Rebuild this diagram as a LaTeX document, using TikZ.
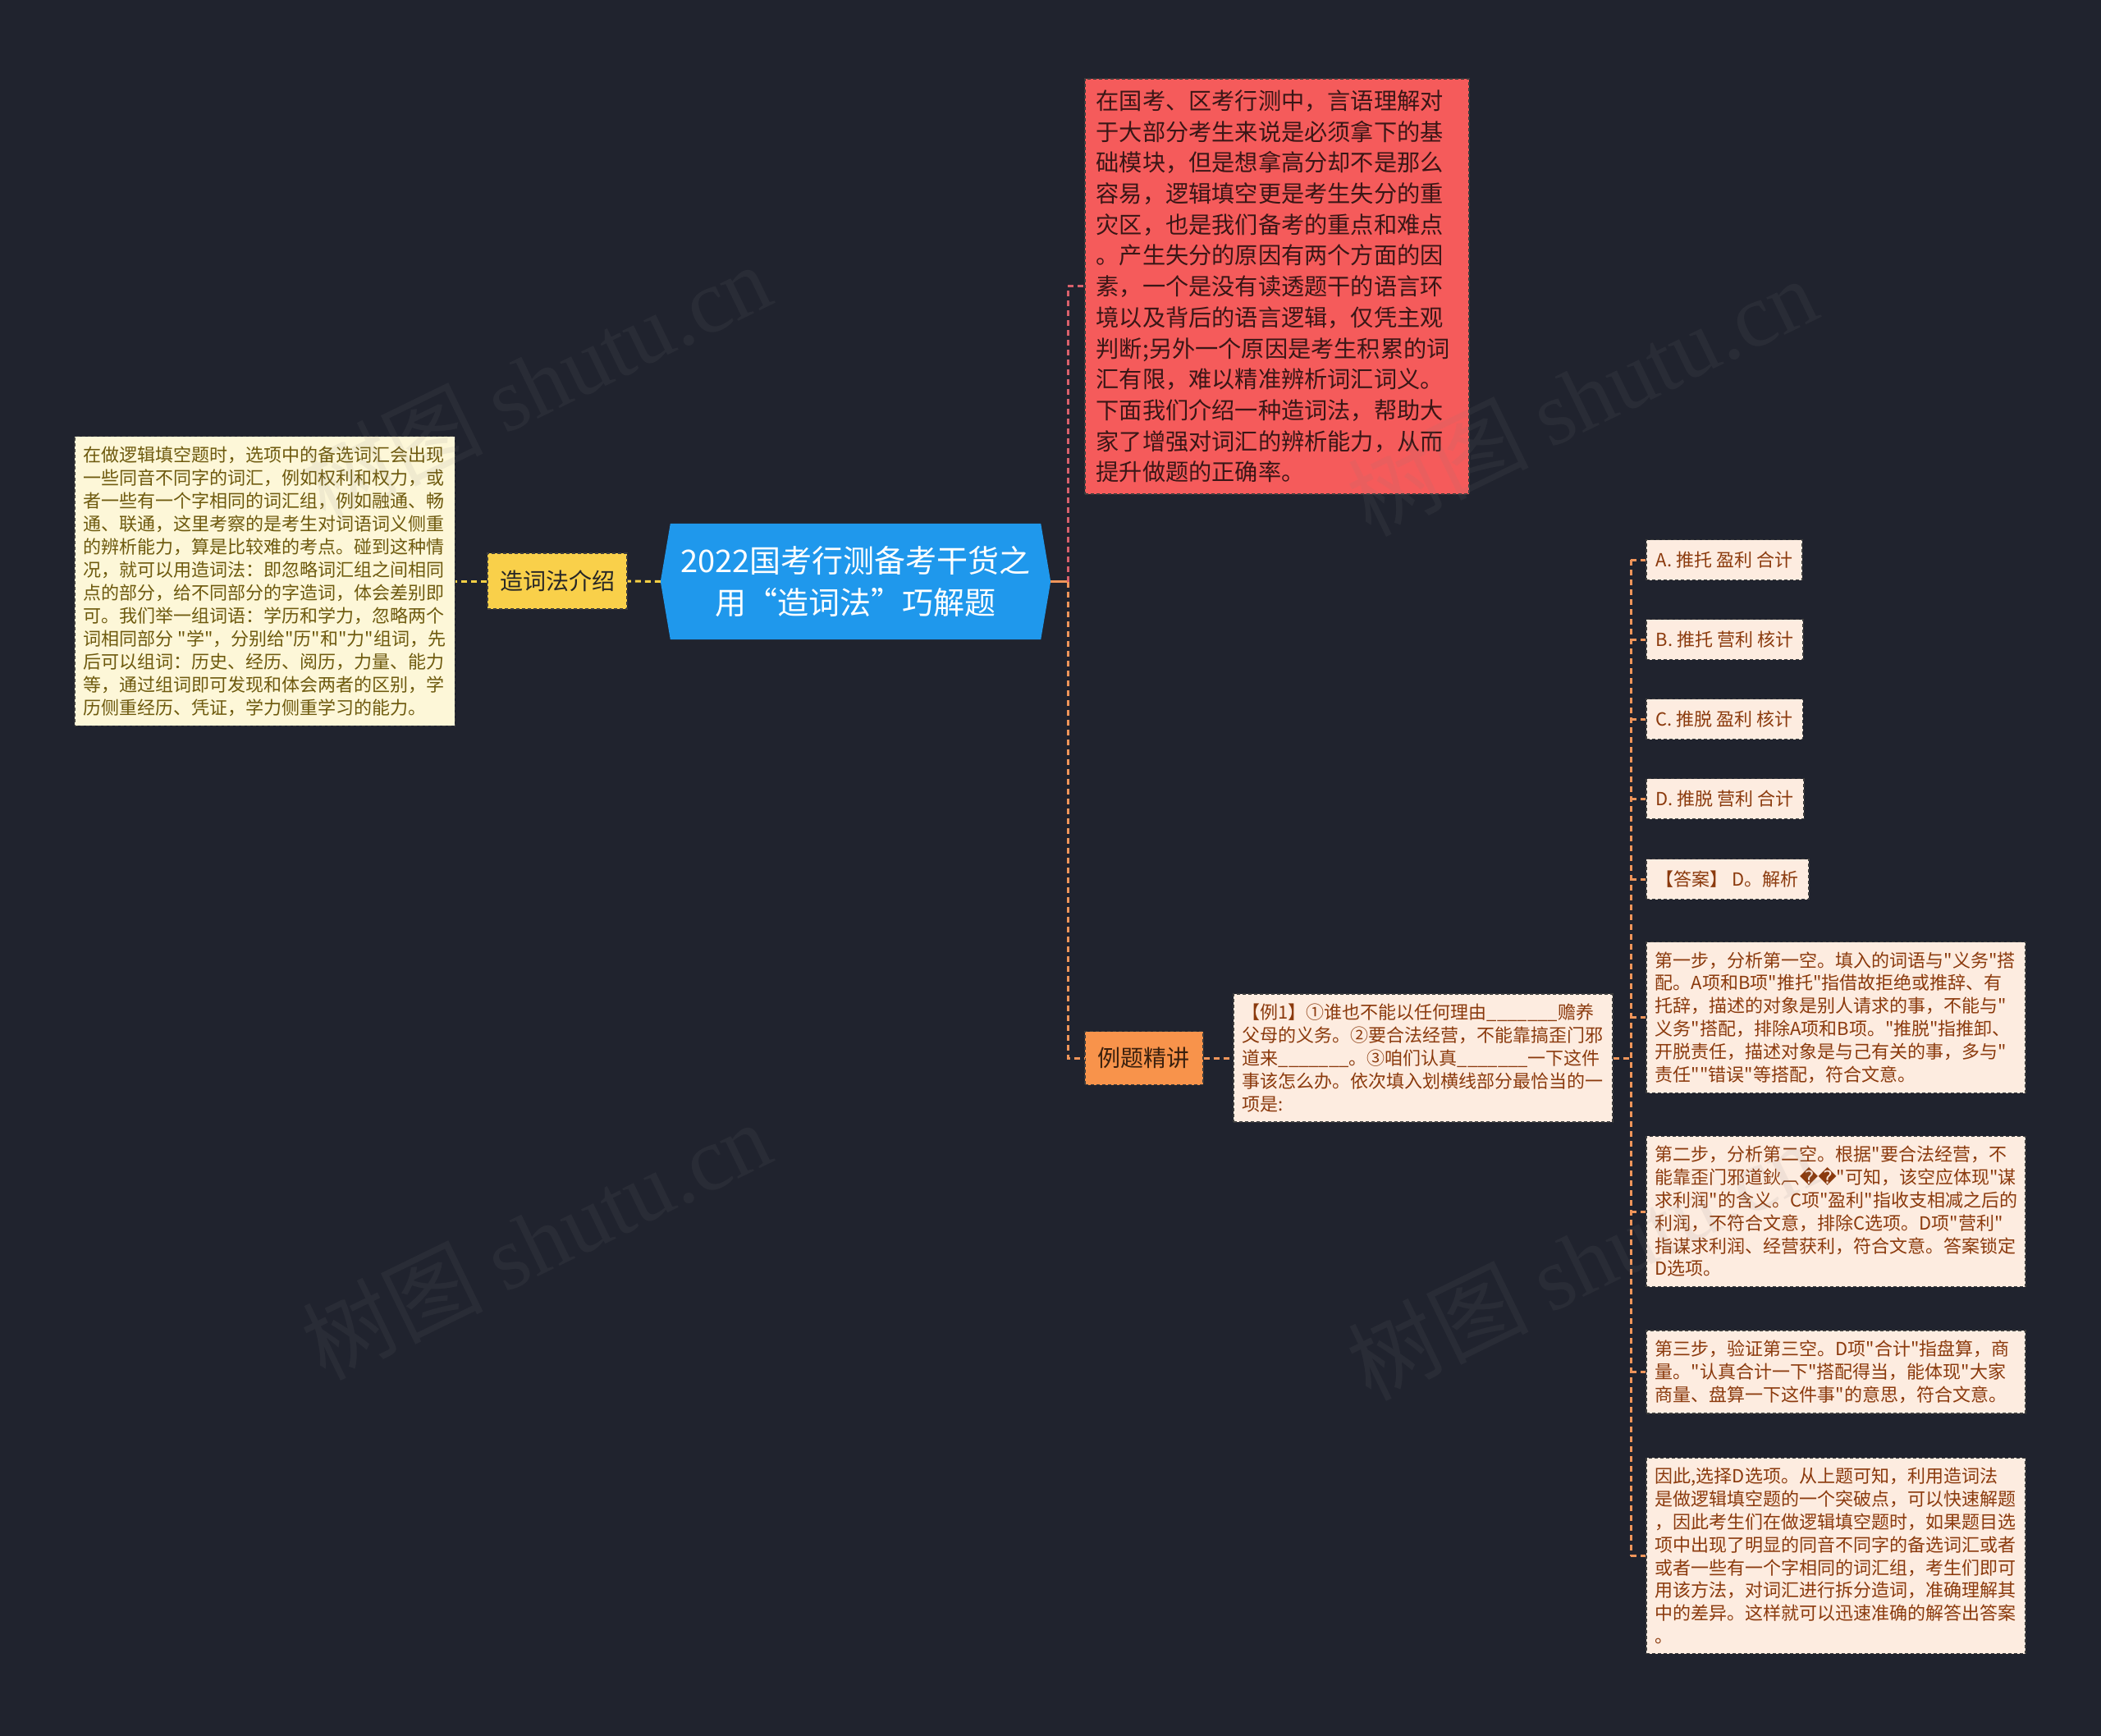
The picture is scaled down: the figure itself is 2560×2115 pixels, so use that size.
\documentclass[tikz,border=0pt]{standalone}
\usepackage{fontspec}
\setmainfont{Noto Sans CJK SC}[Ligatures=TeXOff]
\newfontfamily\wmfont{Liberation Serif}
\newfontfamily\repfont{DejaVu Sans}
\usetikzlibrary{calc}
\definecolor{bgc}{HTML}{20232E}
\definecolor{creamc}{HTML}{FDF7D8}
\definecolor{olivec}{HTML}{6E5A0E}
\definecolor{yelc}{HTML}{F9D04A}
\definecolor{bluec}{HTML}{1F98EC}
\definecolor{redc}{HTML}{F55B5B}
\definecolor{redtxt}{HTML}{3A1616}
\definecolor{orc}{HTML}{F8934B}
\definecolor{ortxt}{HTML}{3A200E}
\definecolor{peachc}{HTML}{FDECE0}
\definecolor{browntxt}{HTML}{8B3A0D}
\definecolor{bordc}{HTML}{3C3C3C}
\definecolor{orln}{HTML}{F0955A}
\definecolor{redln}{HTML}{D9606B}
\definecolor{yelln}{HTML}{F5CF45}
\pgfdeclarelayer{back}
\pgfsetlayers{back,main}
\begin{document}
\begin{tikzpicture}[x=1pt,y=-1pt,
  bdr/.style={draw=bordc, line width=1.5pt, dash pattern=on 4pt off 3pt},
  conn/.style={line width=3pt, dash pattern=on 7pt off 5pt},
  introtxt/.style={bdr, fill=creamc, text=olivec, align=left, inner xsep=11pt, inner ysep=12pt,
    font=\fontsize{22pt}{28pt}\selectfont},
  yelbox/.style={bdr, fill=yelc, text=black!85, minimum width=170pt, minimum height=68pt, inner sep=0pt,
    font=\fontsize{28pt}{34pt}\selectfont},
  rootbox/.style={text=white, minimum width=475pt, minimum height=141pt, inner sep=0pt, align=center,
    font=\fontsize{38pt}{51pt}\selectfont},
  redbox/.style={bdr, fill=redc, text=redtxt, align=left, text width=440pt, inner xsep=14pt, inner ysep=14pt,
    font=\fontsize{28.2pt}{37.7pt}\selectfont},
  orbox/.style={bdr, fill=orc, text=ortxt, minimum width=144pt, minimum height=65pt, inner sep=0pt,
    font=\fontsize{28pt}{34pt}\selectfont},
  bigpeach/.style={bdr, fill=peachc, text=browntxt, align=left, text width=440pt, inner xsep=11pt, inner ysep=12pt,
    font=\fontsize{22pt}{27.8pt}\selectfont},
  smallpeach/.style={bdr, fill=peachc, text=browntxt, minimum height=49pt, inner xsep=12pt, inner ysep=0pt,
    font=\fontsize{22pt}{27pt}\selectfont},
  wm/.style={rotate=26, text=gray, opacity=0.1, font=\fontsize{110pt}{112pt}\selectfont}
]
\useasboundingbox (0,0) rectangle (2560,2115);
\begin{pgfonlayer}{back}
\fill[bgc] (0,0) rectangle (2560,2115);
\end{pgfonlayer}

% root
\node[rootbox] (root) at (1042.5,708.5) {2022国考行测备考干货之\\用“造词法”巧解题};
\begin{pgfonlayer}{back}
\fill[bluec] (root.west) -- ([xshift=12pt]root.north west) -- ([xshift=-12pt]root.north east)
  -- (root.east) -- ([xshift=-12pt]root.south east) -- ([xshift=12pt]root.south west) -- cycle;
\end{pgfonlayer}

% left side
\node[yelbox] (intro) at (679,708) {造词法介绍};
\node[introtxt, anchor=east] (introtext) at (555,708) {在做逻辑填空题时，选项中的备选词汇会出现\\
一些同音不同字的词汇，例如权利和权力，或\\
者一些有一个字相同的词汇组，例如融通、畅\\
通、联通，这里考察的是考生对词语词义侧重\\
的辨析能力，算是比较难的考点。碰到这种情\\
况，就可以用造词法：即忽略词汇组之间相同\\
点的部分，给不同部分的字造词，体会差别即\\
可。我们举一组词语：学历和学力，忽略两个\\
词相同部分 "学"，分别给"历"和"力"组词，先\\
后可以组词：历史、经历、阅历，力量、能力\\
等，通过组词即可发现和体会两者的区别，学\\
历侧重经历、凭证，学力侧重学习的能力。};

% red box
\node[redbox, anchor=north west] (red) at (1321,95) {在国考、区考行测中，言语理解对\\
于大部分考生来说是必须拿下的基\\
础模块，但是想拿高分却不是那么\\
容易，逻辑填空更是考生失分的重\\
灾区，也是我们备考的重点和难点\\
。产生失分的原因有两个方面的因\\
素，一个是没有读透题干的语言环\\
境以及背后的语言逻辑，仅凭主观\\
判断;另外一个原因是考生积累的词\\
汇有限，难以精准辨析词汇词义。\\
下面我们介绍一种造词法，帮助大\\
家了增强对词汇的辨析能力，从而\\
提升做题的正确率。};

% example
\node[orbox, anchor=west] (ex) at (1321,1289) {例题精讲};
\node[bigpeach, anchor=west] (q) at (1502,1289) {【例1】①谁也不能以任何理由\_\_\_\_\_\_\_赡养\\
父母的义务。②要合法经营，不能靠搞歪门邪\\
道来\_\_\_\_\_\_\_。③咱们认真\_\_\_\_\_\_\_一下这件\\
事该怎么办。依次填入划横线部分最恰当的一\\
项是:};

% right children
\node[smallpeach, anchor=west] (A) at (2005,682) {A. 推托 盈利 合计};
\node[smallpeach, anchor=west] (B) at (2005,779) {B. 推托 营利 核计};
\node[smallpeach, anchor=west] (C) at (2005,876) {C. 推脱 盈利 核计};
\node[smallpeach, anchor=west] (D) at (2005,973) {D. 推脱 营利 合计};
\node[smallpeach, anchor=west] (ans) at (2005,1071) {【答案】 D。解析};
\node[bigpeach, anchor=west] (s1) at (2005,1239.5) {第一步，分析第一空。填入的词语与"义务"搭\\
配。A项和B项"推托"指借故拒绝或推辞、有\\
托辞，描述的对象是别人请求的事，不能与"\\
义务"搭配，排除A项和B项。"推脱"指推卸、\\
开脱责任，描述对象是与己有关的事，多与"\\
责任""错误"等搭配，符合文意。};
\node[bigpeach, anchor=west] (s2) at (2005,1476) {第二步，分析第二空。根据"要合法经营，不\\
能靠歪门邪道鈥︹{\repfont ��}"可知，该空应体现"谋\\
求利润"的含义。C项"盈利"指收支相减之后的\\
利润，不符合文意，排除C选项。D项"营利"\\
指谋求利润、经营获利，符合文意。答案锁定\\
D选项。};
\node[bigpeach, anchor=west] (s3) at (2005,1671.5) {第三步，验证第三空。D项"合计"指盘算，商\\
量。"认真合计一下"搭配得当，能体现"大家\\
商量、盘算一下这件事"的意思，符合文意。};
\node[bigpeach, anchor=west] (fin) at (2005,1895.5) {因此,选择D选项。从上题可知，利用造词法\\
是做逻辑填空题的一个突破点，可以快速解题\\
，因此考生们在做逻辑填空题时，如果题目选\\
项中出现了明显的同音不同字的备选词汇或者\\
或者一些有一个字相同的词汇组，考生们即可\\
用该方法，对词汇进行拆分造词，准确理解其\\
中的差异。这样就可以迅速准确的解答出答案\\
。};

% connectors
\draw[conn, draw=yelln] (root.west) -- (intro.east);
\draw[conn, draw=yelln] (intro.west) -- (introtext.east);
\coordinate (j1) at (1301,708.5);
\draw[line width=3pt, draw=orln] (root.east) -- (j1);
\draw[conn, draw=redln] (j1) |- (red.west);
\draw[conn, draw=orln] (j1) |- (ex.west);
\draw[conn, draw=orln] (ex.east) -- (q.west);
\coordinate (j2) at (1987,1289);
\draw[conn, draw=orln] (q.east) -- (j2);
\draw[conn, draw=orln] (A.west -| j2) -- (fin.west -| j2);
\foreach \n in {A,B,C,D,ans,s1,s2,s3,fin}
  \draw[conn, draw=orln] (\n.west -| j2) -- (\n.west);

% watermarks
\node[wm] (wm1) at (653,465) {树图 {\wmfont shutu.cn}};
\node[wm] (wm2) at (1927,482) {树图 {\wmfont shutu.cn}};
\node[wm] (wm3) at (653,1510) {树图 {\wmfont shutu.cn}};
\node[wm] (wm4) at (1927,1535) {树图 {\wmfont shutu.cn}};
\end{tikzpicture}
\end{document}
